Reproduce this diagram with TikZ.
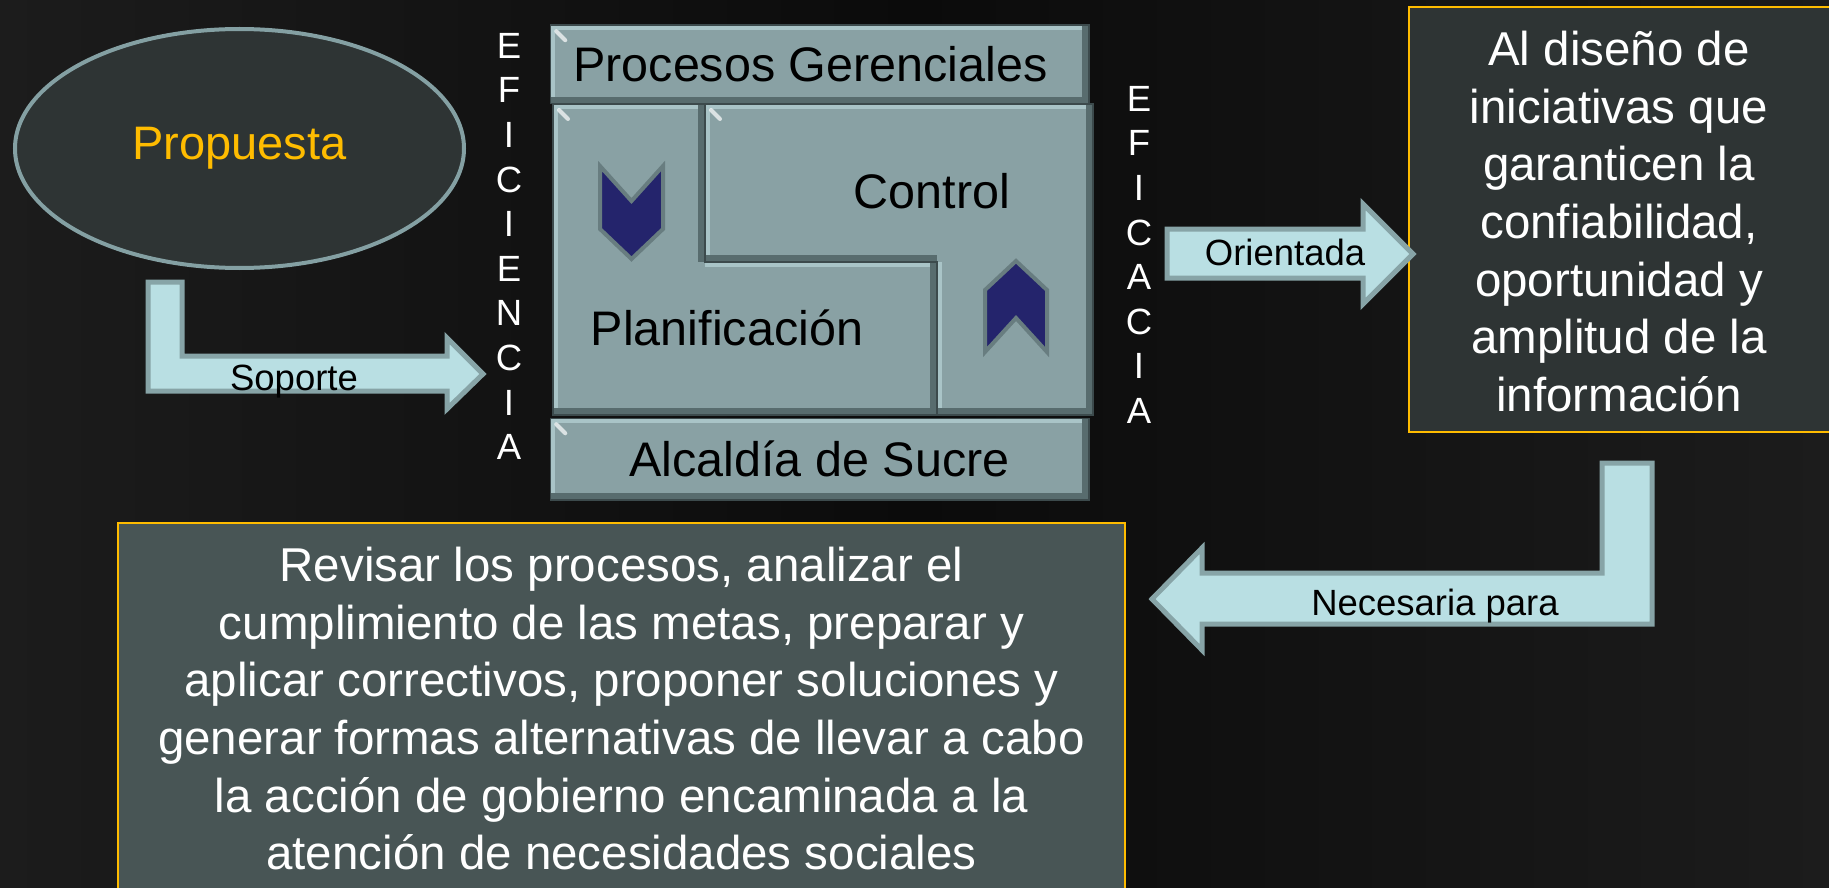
\documentclass[tikz,border=0pt]{standalone}
\usepackage{fontspec}
\setmainfont{Liberation Sans}
\usetikzlibrary{shapes.geometric}

\definecolor{bgdark}{HTML}{0B0B0B}
\definecolor{bgside}{HTML}{1C1C1C}
\definecolor{slate}{HTML}{2E3434}
\definecolor{slatelight}{HTML}{485555}
\definecolor{gold}{HTML}{FFBC00}
\definecolor{rim}{HTML}{84A0A3}
\definecolor{ice}{HTML}{B9DFE3}
\definecolor{iceedge}{HTML}{87A4A7}
\definecolor{tile}{HTML}{89A1A4}
\definecolor{tilelight}{HTML}{A9C4C7}
\definecolor{tiledark}{HTML}{586C6E}
\definecolor{tileline}{HTML}{3C4A4C}
\definecolor{navy}{HTML}{24246C}
\definecolor{chevedge}{HTML}{687D80}

\begin{document}
\begin{tikzpicture}
        [x=1pt, y=-1pt,
        oval/.style={ellipse, draw=rim, line width=4pt, fill=slate, minimum width=449pt, minimum height=239pt, inner sep=0pt, text=gold, font=\fontsize{47}{50}\selectfont},
        infobox/.style={draw=gold, line width=2.5pt, inner sep=0pt},
        boxtext/.style={text=white, align=center, inner sep=0pt, anchor=north, font=\fontsize{47.5}{57.6}\selectfont},
        vword/.style={text=white, align=center, inner sep=0pt, anchor=north, font=\fontsize{36.5}{44.6}\selectfont},
        blockarrow/.style={fill=ice, draw=iceedge, line width=5pt, line join=miter},
        arrowtext/.style={text=black, inner sep=0pt, anchor=base, font=\fontsize{36.5}{40}\selectfont},
        tilebar/.style={fill=tile, draw=tileline, line width=1.5pt, minimum width=537pt, inner sep=0pt},
        tilepiece/.style={fill=tile, draw=tileline, line width=1.5pt},
        tiletext/.style={text=black, inner sep=0pt, font=\fontsize{48.5}{50}\selectfont},
        lightrim/.style={draw=tilelight, line width=10pt},
        darkrim/.style={draw=tiledark, line width=14pt},
        glint/.style={draw=white, opacity=0.7, line width=4pt, line cap=round},
        chevron/.style={fill=navy, draw=chevedge, line width=4pt, line join=miter}]

        \useasboundingbox (0,0) rectangle (1829,888);
        \clip (0,0) rectangle (1829,888);

        % background
        \shade[left color=bgside, right color=bgside, middle color=bgdark] (0,0) rectangle (1829,888);

        % proposal
        \node[oval] (prop) at (239.5,148.5) {Propuesta};

        % vertical words
        \node[vword] (efi) at (509,33) {E\\F\\I\\C\\I\\E\\N\\C\\I\\A};
        \node[vword] (efc) at (1139,86) {E\\F\\I\\C\\A\\C\\I\\A};

        % management block: top and bottom bars
        \node[tilebar, minimum height=77pt] (pg) at (819.5,64.5) {};
        \node[tilebar, minimum height=80pt] (alc) at (819.5,459) {};
        \foreach \b in {pg, alc} {
          \begin{scope}
            \clip (\b.north west) rectangle (\b.south east);
            \draw[lightrim] (\b.south west) -- (\b.north west) -- (\b.north east);
            \draw[darkrim] (\b.north east) -- (\b.south east) -- (\b.south west);
          \end{scope}
          \draw[draw=tileline, line width=1.5pt] (\b.north west) rectangle (\b.south east);
          \draw[glint] ([shift={(6,6)}]\b.north west) -- ++(9,9);
        }
        \node[tiletext] (pgtxt) at ([xshift=-9pt]pg.center) {Procesos Gerenciales};
        \node[tiletext] (alctxt) at (alc.center) {Alcaldía de Sucre};

        % planning piece
        \fill[tile] (553,104) -- (705,104) -- (705,262) -- (937,262) -- (937,415) -- (553,415) -- cycle;
        \begin{scope}
          \clip (553,104) -- (705,104) -- (705,262) -- (937,262) -- (937,415) -- (553,415) -- cycle;
          \draw[lightrim] (553,415) -- (553,104) -- (705,104);
          \draw[lightrim] (705,262) -- (937,262);
          \draw[darkrim] (705,104) -- (705,262);
          \draw[darkrim] (937,262) -- (937,415) -- (553,415);
        \end{scope}
        \draw[tilepiece, fill=none] (553,104) -- (705,104) -- (705,262) -- (937,262) -- (937,415) -- (553,415) -- cycle;
        \draw[glint] (559,110) -- ++(9,9);

        % control piece
        \fill[tile] (705,104) -- (1093,104) -- (1093,415) -- (937,415) -- (937,262) -- (705,262) -- cycle;
        \begin{scope}
          \clip (705,104) -- (1093,104) -- (1093,415) -- (937,415) -- (937,262) -- (705,262) -- cycle;
          \draw[lightrim] (705,262) -- (705,104) -- (1093,104);
          \draw[lightrim] (937,415) -- (937,262);
          \draw[darkrim] (1093,104) -- (1093,415) -- (937,415);
          \draw[darkrim] (937,262) -- (705,262);
        \end{scope}
        \draw[tilepiece, fill=none] (705,104) -- (1093,104) -- (1093,415) -- (937,415) -- (937,262) -- (705,262) -- cycle;
        \draw[glint] (711,110) -- ++(9,9);

        \node[tiletext] (ctl) at (932,191.5) {Control};
        \node[tiletext] (plan) at (727,327.5) {Planificación};

        % chevrons
        \draw[chevron] (600,166) -- (631.5,201) -- (663,166) -- (663,229) -- (631.5,259) -- (600,229) -- cycle;
        \draw[chevron] (985,290) -- (1016,261) -- (1047,290) -- (1047,352) -- (1016,318) -- (985,352) -- cycle;

        % result boxes
        \node[infobox, fill=slate, minimum width=426pt, minimum height=425pt] (info) at (1622,219.5) {};
        \node[boxtext] (infotxt) at (1619,31) {Al diseño de\\iniciativas que\\garanticen la\\confiabilidad,\\oportunidad y\\amplitud de la\\información};

        \node[infobox, fill=slatelight, minimum width=1007pt, minimum height=372pt] (tasks) at (621.5,709) {};
        \node[boxtext] (taskstxt) at (621.5,547) {Revisar los procesos, analizar el\\cumplimiento de las metas, preparar y\\aplicar correctivos, proponer soluciones y\\generar formas alternativas de llevar a cabo\\la acción de gobierno encaminada a la\\atención de necesidades sociales};

        % block arrows
        \coordinate (soptip) at (483,374);
        \coordinate (oritip) at (1413,254);
        \coordinate (nectip) at (1152,599);

        \draw[blockarrow] (soptip) -- ++(-36,35) -- ++(0,-18) -- ++(-299,0) -- ++(0,-109)
          -- ++(34,0) -- ++(0,74) -- ++(265,0) -- ++(0,-18) -- cycle;
        \draw[blockarrow] (oritip) -- ++(-50,50) -- ++(0,-26) -- ++(-196,0) -- ++(0,-49)
          -- ++(196,0) -- ++(0,-25) -- cycle;
        \draw[blockarrow] (nectip) -- ++(50,-51) -- ++(0,25) -- ++(400,0) -- ++(0,-110)
          -- ++(50,0) -- ++(0,161) -- ++(-450,0) -- ++(0,26) -- cycle;

        % arrow labels
        \node[arrowtext] (sop) at (294,390) {Soporte};
        \node[arrowtext] (ori) at (1285,265) {Orientada};
        \node[arrowtext] (nec) at (1435,615) {Necesaria para};

    \end{tikzpicture}
\end{document}
